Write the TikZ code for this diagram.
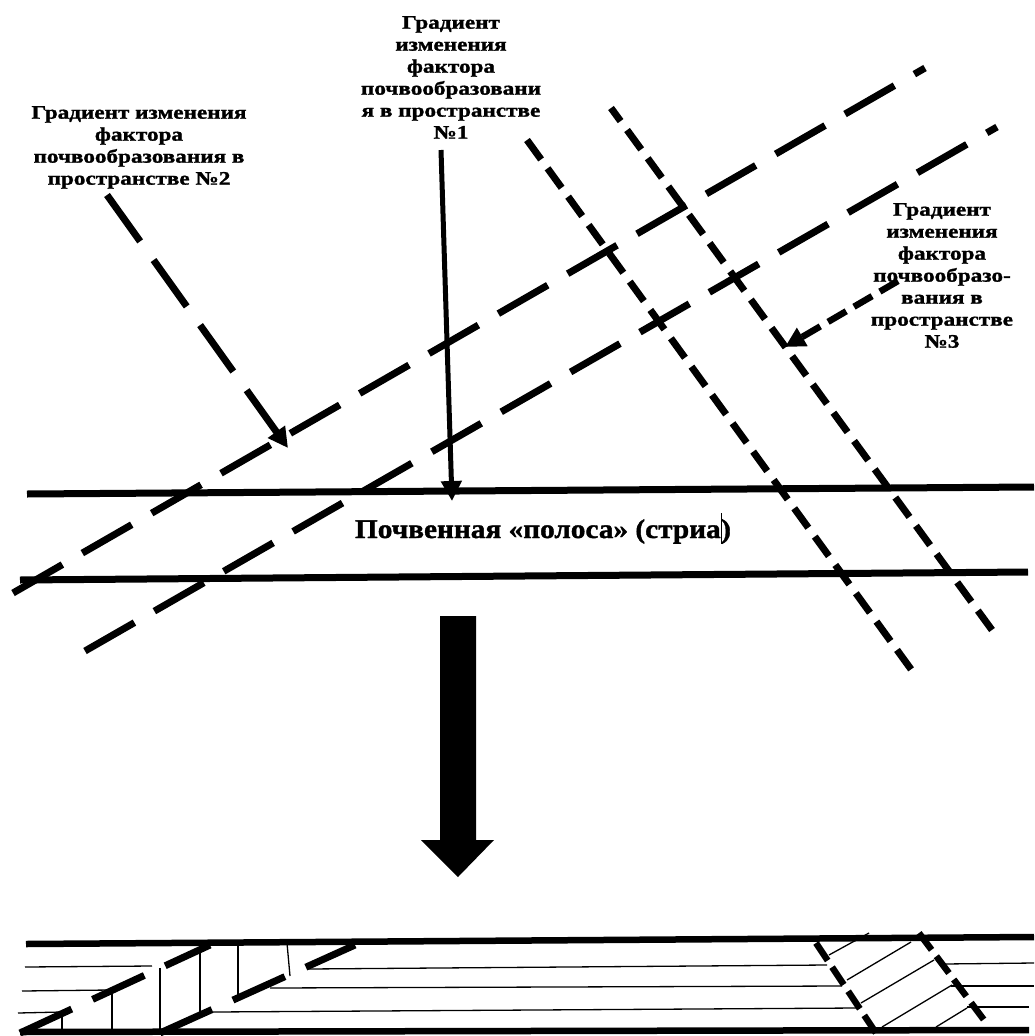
\documentclass[tikz,border=0pt]{standalone}
\usepackage{fontspec}
\setmainfont{Liberation Serif}
\newfontfamily\labfont[FakeStretch=1.22,FakeBold=1.4]{Liberation Serif}
\newfontfamily\stripfont[FakeStretch=1.085,FakeBold=1.4]{Liberation Serif}
\usetikzlibrary{arrows.meta}
\begin{document}
\begin{tikzpicture}[x=1pt,y=-1pt,
  bigline/.style={line width=7pt},
  longdash/.style={line width=7pt, dash pattern=on 57pt off 23pt},
  shortdash/.style={line width=7pt, dash pattern=on 24pt off 11pt},
  finedash/.style={line width=6.5pt, dash pattern=on 21pt off 8pt},
  thinline/.style={line width=1.3pt},
  lab/.style={font=\labfont\bfseries\fontsize{19}{22}\selectfont, align=center, inner sep=0pt, anchor=north},
  tipend/.style={-{Triangle[length=20pt,width=20pt]}}
]
\useasboundingbox[fill=white] (0,0) rectangle (1034,1036);

% ---- labels
\node[lab] (lab1) at (451,16) {Градиент\\изменения\\фактора\\почвообразовани\\я в пространстве\\№1};
\node[lab] (lab2) at (139,106) {Градиент изменения\\фактора\\почвообразования в\\пространстве №2};
\node[lab] (lab3) at (942,203) {Градиент\\изменения\\фактора\\почвообразо-\\вания в\\пространстве\\№3};
\node[font=\stripfont\bfseries\fontsize{27}{30}\selectfont, inner sep=0pt, anchor=base] (strip) at (543,538)
  {Почвенная «полоса» (стриа\kern0.3pt\rule[-0.22em]{0.7pt}{1.15em}\kern-0.5pt)};

% ---- strip boundaries
\coordinate (u1) at (27,494); \coordinate (u2) at (1034,487);
\coordinate (w1) at (20,580); \coordinate (w2) at (1028,572);
\draw[bigline] (u1) -- (u2);
\draw[bigline] (w1) -- (w2);

% ---- long dashed gradient lines
\coordinate (l1a) at (13,593); \coordinate (l1b) at (925,68);
\coordinate (l2a) at (85,651); \coordinate (l2b) at (997,127);
\draw[longdash] (l1a) -- (l1b);
\draw[longdash] (l2a) -- (l2b);

% ---- short dashed gradient lines
\coordinate (d1a) at (527,140); \coordinate (d1b) at (913,672);
\coordinate (d2a) at (611,108); \coordinate (d2b) at (992,630);
\draw[shortdash] (d1a) -- (d1b);
\draw[shortdash] (d2b) -- (d2a);

% ---- arrows from labels
\coordinate (a1s) at (441,150); \coordinate (a1e) at (452,501);
\draw[line width=5pt, tipend] (a1s) -- (a1e);
\coordinate (a2s) at (107,195); \coordinate (a2e) at (288,448);
\draw[longdash, tipend] (a2s) -- (a2e);
\coordinate (a3s) at (898,281); \coordinate (a3e) at (785,347);
\draw[line width=6.5pt, dash pattern=on 21pt off 9pt, tipend] (a3s) -- (a3e);

% ---- big block arrow
\fill (440,616) -- (476,616) -- (476,840) -- (494,840) -- (458,877) -- (421,840) -- (440,840) -- cycle;

% ---- bottom section: strip boundaries
\coordinate (b1) at (26,944); \coordinate (b2) at (1034,937);
\coordinate (c1) at (20,1032); \coordinate (c2) at (1029,1030);
\draw[line width=6.5pt] (b1) -- (b2);
\draw[line width=6.5pt] (c1) -- (c2);

% strata (thin)
\draw[thinline] (25,967) -- (152,966);
\draw[thinline] (308,969) -- (827,965);
\draw[thinline] (944,964) -- (1034,963);
\draw[thinline] (22,991) -- (110,990);
\draw[thinline] (270,988) -- (842,986);
\draw[thinline] (951,986) -- (1034,986);
\draw[thinline] (18,1013) -- (62,1012);
\draw[thinline] (213,1012) -- (857,1008);
\draw[thinline] (967,1007) -- (1029,1007);

% left displacement zone
\draw[thinline] (62,1013) -- (62,1033);
\draw[thinline] (112,990) -- (112,1033);
\draw[thinline] (160,968) -- (160,1033);
\draw[thinline] (200,944) -- (200,1015);
\draw[thinline] (238,944) -- (238,998);
\draw[thinline] (287,943) -- (290,976);
\coordinate (ld1) at (20,1033); \coordinate (ld2) at (210,945);
\coordinate (rd1) at (160,1033); \coordinate (rd2) at (355,945);
\draw[longdash] (ld1) -- (ld2);
\draw[longdash] (rd1) -- (rd2);

% right displacement zone
\draw[thinline] (829,955) -- (869,933);
\draw[thinline] (847,980) -- (911,942);
\draw[thinline] (861,1003) -- (934,960);
\draw[thinline] (882,1027) -- (952,985);
\draw[thinline] (936,1027) -- (967,1008);
\coordinate (rz1a) at (816,943); \coordinate (rz1b) at (876,1033);
\coordinate (rz2a) at (919,933); \coordinate (rz2b) at (984,1020);
\draw[finedash] (rz1a) -- (rz1b);
\draw[finedash] (rz2a) -- (rz2b);
\end{tikzpicture}
\end{document}
